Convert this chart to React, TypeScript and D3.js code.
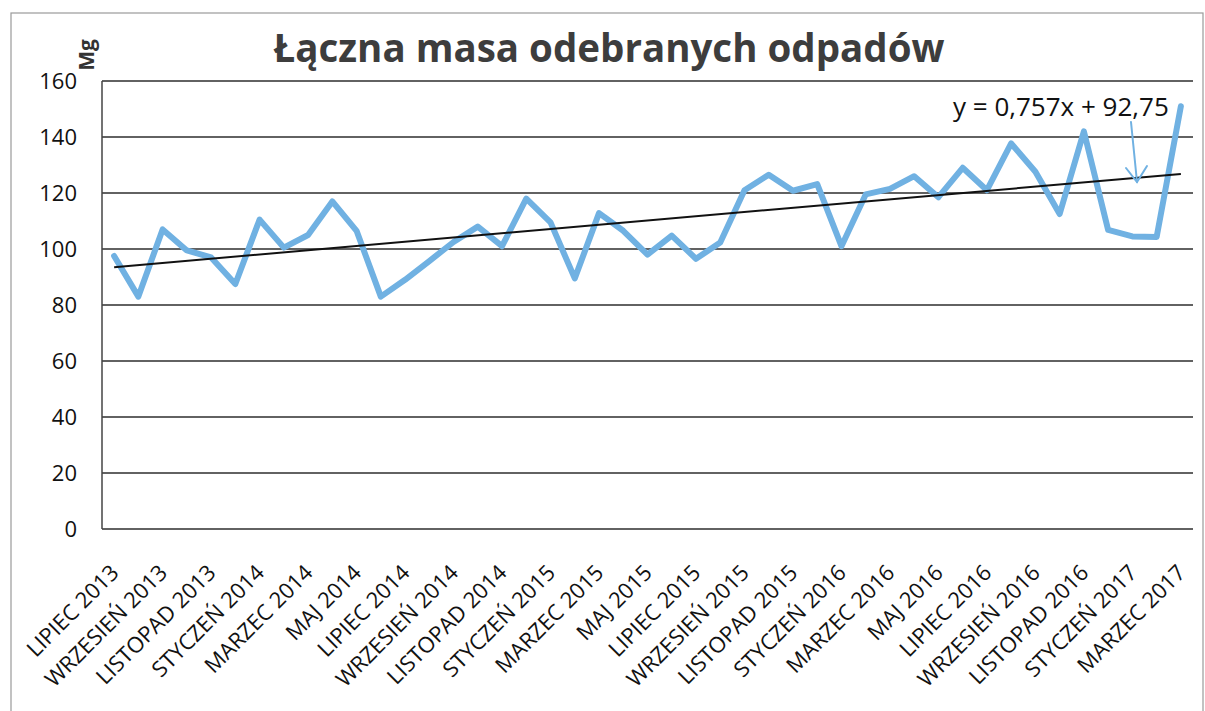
import * as d3 from "d3";

const months = [
  "LIPIEC 2013", "SIERPIEŃ 2013", "WRZESIEŃ 2013", "PAŹDZIERNIK 2013", "LISTOPAD 2013", "GRUDZIEŃ 2013",
  "STYCZEŃ 2014", "LUTY 2014", "MARZEC 2014", "KWIECIEŃ 2014", "MAJ 2014", "CZERWIEC 2014",
  "LIPIEC 2014", "SIERPIEŃ 2014", "WRZESIEŃ 2014", "PAŹDZIERNIK 2014", "LISTOPAD 2014", "GRUDZIEŃ 2014",
  "STYCZEŃ 2015", "LUTY 2015", "MARZEC 2015", "KWIECIEŃ 2015", "MAJ 2015", "CZERWIEC 2015",
  "LIPIEC 2015", "SIERPIEŃ 2015", "WRZESIEŃ 2015", "PAŹDZIERNIK 2015", "LISTOPAD 2015", "GRUDZIEŃ 2015",
  "STYCZEŃ 2016", "LUTY 2016", "MARZEC 2016", "KWIECIEŃ 2016", "MAJ 2016", "CZERWIEC 2016",
  "LIPIEC 2016", "SIERPIEŃ 2016", "WRZESIEŃ 2016", "PAŹDZIERNIK 2016", "LISTOPAD 2016", "GRUDZIEŃ 2016",
  "STYCZEŃ 2017", "LUTY 2017", "MARZEC 2017",
];

// Mg per month
const mass = [
  97.5, 83, 107, 99.5, 97, 87.5,
  110.5, 100.5, 105, 117, 106.5, 83,
  89, 95.7, 102.5, 108, 101, 118,
  109.5, 89.5, 112.8, 106.5, 98, 104.8,
  96.5, 102.3, 121, 126.5, 120.8, 123.2,
  101, 119.5, 121.5, 126, 118.5, 129,
  121, 137.7, 127.6, 112.5, 142, 106.8,
  104.5, 104.3, 151,
];

const yTicks = [0, 20, 40, 60, 80, 100, 120, 140, 160];

const trendSlope = 0.757;
const trendIntercept = 92.75;
const trendLabel = "y = 0,757x + 92,75";
const title = "Łączna masa odebranych odpadów";
const unit = "Mg";

const font = "'Open Sans', 'DejaVu Sans', sans-serif";

export default function App() {
  const W = 1205;
  const H = 711;
  const x = d3.scaleBand().domain(months).range([102, 1193]);
  const y = d3.scaleLinear().domain([0, 160]).range([529, 81]);
  const cx = (i: number) => (x(months[i]) ?? 0) + x.bandwidth() / 2;

  const line = d3
    .line<number>()
    .x((_, i) => cx(i))
    .y((d) => y(d));

  const trendEnds = [0, months.length - 1].map((i) => [cx(i), y(trendSlope * (i + 1) + trendIntercept)] as [number, number]);
  const trendPath = d3.line()(trendEnds) ?? "";

  return (
    <svg width={W} height={H} style={{ position: "absolute", left: 0, top: 0, background: "#fff" }} fontFamily={font}>
      <rect x={11} y={13} width={1192} height={720} fill="#fff" stroke="#9a9a9a" strokeWidth={1.2} />

      <text x={609} y={62} textAnchor="middle" fontSize={38.5} fontWeight="bold" fill="#3d3d3d">
        {title}
      </text>

      <text transform="translate(94,55) rotate(-90)" textAnchor="middle" fontSize={21} fontWeight="bold" fill="#333">
        {unit}
      </text>

      {yTicks.map((t) => (
        <g key={t}>
          <line x1={102} x2={1193} y1={y(t)} y2={y(t)} stroke="#2e2e2e" strokeWidth={1.5} />
          <text x={77} y={y(t)} dy="0.36em" textAnchor="end" fontSize={22} fill="#111">
            {t}
          </text>
        </g>
      ))}
      <line x1={102} x2={102} y1={y(160)} y2={y(0)} stroke="#444" strokeWidth={1.5} />

      {months.map((m, i) =>
        i % 2 === 0 ? (
          <text
            key={m}
            transform={`translate(${cx(i) + 6},574) rotate(-45)`}
            textAnchor="end"
            fontSize={22}
            fill="#111"
          >
            {m}
          </text>
        ) : null
      )}

      <path d={line(mass) ?? ""} fill="none" stroke="#70b1e2" strokeWidth={6} strokeLinejoin="round" strokeLinecap="round" />
      <path d={trendPath} fill="none" stroke="#111" strokeWidth={2} />

      <text x={953} y={116} fontSize={26} fill="#111">
        {trendLabel}
      </text>
      <g stroke="#70b1e2" strokeWidth={2} fill="none" strokeLinecap="round">
        <path d="M1131,122 L1137,182" />
        <path d="M1126,168 L1137,182 L1147,166" />
      </g>
    </svg>
  );
}
